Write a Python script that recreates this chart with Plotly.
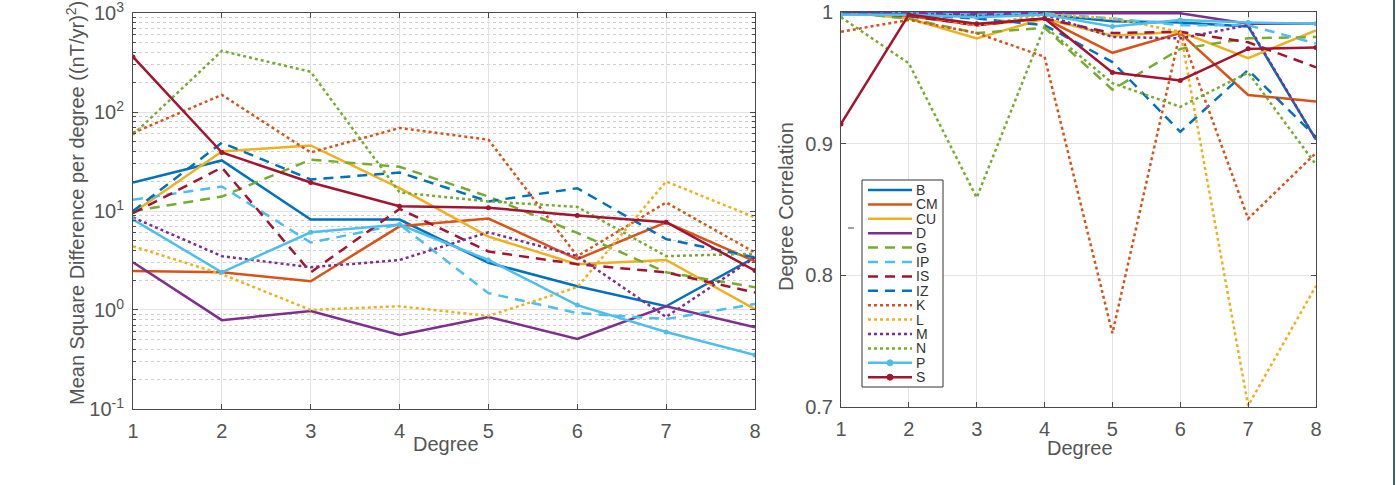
import plotly.graph_objects as go

W, H = 1396, 485

degrees = [1, 2, 3, 4, 5, 6, 7, 8]
series_names = ["B", "CM", "CU", "D", "G", "IP", "IS", "IZ", "K", "L", "M", "N", "P", "S"]

# Mean square difference per degree ((nT/yr)^2)
msd_B = [19.4, 32.4, 8.2, 8.2, 3.0, 1.74, 1.09, 3.4]
msd_CM = [2.47, 2.4, 1.95, 7.0, 8.4, 3.26, 7.7, 3.1]
msd_CU = [9.6, 40, 46, 17, 5.5, 2.9, 3.2, 1.02]
msd_D = [3.03, 0.79, 0.975, 0.56, 0.85, 0.51, 1.09, 0.67]
msd_G = [10, 14, 33, 28, 14, 6.0, 2.4, 1.7]
msd_IP = [13, 17.7, 4.8, 7.3, 1.48, 0.93, 0.81, 1.15]
msd_IS = [9.5, 27.5, 2.4, 10.5, 3.9, 2.9, 2.4, 1.5]
msd_IZ = [10, 49, 20.8, 24.5, 12.5, 17, 5.2, 3.4]
msd_K = [61.5, 149, 39, 69, 52.5, 3.5, 12.2, 3.8]
msd_L = [4.4, 2.3, 1.0, 1.09, 0.87, 1.7, 19.9, 8.6]
msd_M = [8.6, 3.5, 2.7, 3.2, 6.1, 3.5, 0.85, 3.4]
msd_N = [59, 414, 255, 15.4, 12.5, 11, 3.5, 3.7]
msd_P = [8.2, 2.4, 6.1, 7.3, 3.2, 1.12, 0.6, 0.35]
msd_S = [360, 39, 19.4, 11.2, 10.8, 9.0, 7.7, 2.5]

# Degree correlation
corr_B = [0.999, 0.999, 0.998, 0.998, 0.993, 0.992, 0.989, 0.903]
corr_CM = [0.999, 0.997, 0.99, 0.995, 0.969, 0.984, 0.937, 0.932]
corr_CU = [1.0, 0.995, 0.98, 0.995, 0.982, 0.985, 0.965, 0.986]
corr_D = [1.0, 1.0, 0.999, 0.999, 0.999, 0.999, 0.991, 0.991]
corr_G = [1.0, 0.995, 0.984, 0.988, 0.941, 0.972, 0.980, 0.981]
corr_IP = [1.0, 0.999, 0.998, 0.999, 0.995, 0.99, 0.99, 0.976]
corr_IS = [1.0, 0.997, 0.99, 0.995, 0.984, 0.985, 0.977, 0.958]
corr_IZ = [1.0, 0.998, 0.995, 0.99, 0.962, 0.909, 0.956, 0.905]
corr_K = [0.985, 0.994, 0.984, 0.966, 0.756, 0.985, 0.843, 0.893]
corr_L = [1.0, 0.999, 0.99, 0.998, 0.995, 0.985, 0.701, 0.792]
corr_M = [1.0, 0.999, 0.997, 0.998, 0.981, 0.98, 0.99, 0.903]
corr_N = [0.996, 0.961, 0.859, 0.989, 0.946, 0.928, 0.954, 0.884]
corr_P = [0.998, 0.998, 0.996, 0.998, 0.989, 0.994, 0.992, 0.991]
corr_S = [0.915, 0.998, 0.991, 0.995, 0.954, 0.948, 0.972, 0.973]

msd = [msd_B, msd_CM, msd_CU, msd_D, msd_G, msd_IP, msd_IS, msd_IZ,
       msd_K, msd_L, msd_M, msd_N, msd_P, msd_S]
corr = [corr_B, corr_CM, corr_CU, corr_D, corr_G, corr_IP, corr_IS, corr_IZ,
        corr_K, corr_L, corr_M, corr_N, corr_P, corr_S]

BLUE, ORANGE, YELLOW, PURPLE = "#0072BD", "#D95319", "#EDB120", "#7E2F8E"
GREEN, CYAN, RED = "#77AC30", "#4DBEEE", "#A2142F"
DASH = "10px,7px"
styles = [
    (BLUE, "solid", False), (ORANGE, "solid", False), (YELLOW, "solid", False),
    (PURPLE, "solid", False), (GREEN, DASH, False), (CYAN, DASH, False),
    (RED, DASH, False), (BLUE, DASH, False), (ORANGE, "dot", False),
    (YELLOW, "dot", False), (PURPLE, "dot", False), (GREEN, "dot", False),
    (CYAN, "solid", True), (RED, "solid", True),
]
LW = 2.5

fig = go.Figure()
for name, ys, (col, dash, mk) in zip(series_names, msd, styles):
    fig.add_trace(go.Scatter(
        x=degrees, y=ys, name=name, xaxis="x", yaxis="y", showlegend=False,
        mode="lines+markers" if mk else "lines",
        line=dict(color=col, width=LW, dash=dash),
        marker=dict(size=5, color=col)))
for name, ys, (col, dash, mk) in zip(series_names, corr, styles):
    fig.add_trace(go.Scatter(
        x=degrees, y=ys, name=name, xaxis="x2", yaxis="y2", showlegend=False,
        mode="lines+markers" if mk else "lines",
        line=dict(color=col, width=LW, dash=dash),
        marker=dict(size=5, color=col)))

AX = "#4a4a4a"
TXT = "#555555"
FONT = "Liberation Sans, Arial"
TICKF = dict(family=FONT, size=20, color=TXT)


def px_x(p):
    return p / W


def px_y(p):
    return 1 - p / H


common = dict(showline=True, mirror="ticks", linecolor=AX, linewidth=1,
              ticks="inside", ticklen=5, tickcolor=AX, tickfont=TICKF,
              showgrid=True, gridcolor="#e3e3e3", gridwidth=1, zeroline=False,
              automargin=False, ticklabeloverflow="allow")

annotations = [
    dict(text="Degree", x=px_x(446), y=px_y(444), xref="paper", yref="paper",
         xanchor="center", yanchor="middle", showarrow=False,
         font=dict(family=FONT, size=20, color=TXT)),
    dict(text="Degree", x=px_x(1080), y=px_y(448), xref="paper", yref="paper",
         xanchor="center", yanchor="middle", showarrow=False,
         font=dict(family=FONT, size=20, color=TXT)),
    dict(text="Mean Square Difference per degree ((nT/yr)<sup>2</sup>)",
         x=px_x(75), y=px_y(203), xref="paper", yref="paper", textangle=-90,
         xanchor="center", yanchor="middle", showarrow=False,
         font=dict(family=FONT, size=20, color=TXT)),
    dict(text="Degree Correlation", x=px_x(786), y=px_y(207), xref="paper",
         yref="paper", textangle=-90, xanchor="center", yanchor="middle",
         showarrow=False, font=dict(family=FONT, size=20, color=TXT)),
]

shapes = [
    dict(type="line", xref="paper", yref="paper", x0=px_x(1394), x1=px_x(1394),
         y0=0, y1=1, line=dict(color="#3d5f80", width=2)),
    dict(type="line", xref="paper", yref="paper", x0=px_x(848), x1=px_x(854),
         y0=px_y(228), y1=px_y(228), line=dict(color="#444444", width=1)),
    # legend box
    dict(type="rect", xref="paper", yref="paper", x0=px_x(862), x1=px_x(943),
         y0=px_y(387), y1=px_y(180), fillcolor="white",
         line=dict(color="#333333", width=1), layer="above"),
]

# legend entries, built from the series list
LEG_TOP, LEG_STEP = 190.0, 14.4
for i, (name, (col, dash, mk)) in enumerate(zip(series_names, styles)):
    cy = LEG_TOP + i * LEG_STEP
    yy = px_y(cy)
    shapes.append(dict(type="line", xref="paper", yref="paper",
                       x0=px_x(868), x1=px_x(912), y0=yy, y1=yy, layer="above",
                       line=dict(color=col, width=LW, dash=dash)))
    if mk:
        shapes.append(dict(type="circle", xref="paper", yref="paper",
                           x0=px_x(887), x1=px_x(893), y0=px_y(cy + 3), y1=px_y(cy - 3),
                           fillcolor=col, line=dict(color=col, width=1), layer="above"))
    annotations.append(dict(text=name, x=px_x(914), y=yy, xref="paper", yref="paper",
                            xanchor="left", yanchor="middle", showarrow=False,
                            font=dict(family=FONT, size=14, color="#333333")))

fig.update_layout(
    width=W, height=H, margin=dict(l=0, r=0, t=0, b=0),
    paper_bgcolor="white", plot_bgcolor="white", showlegend=False,
    font=dict(family=FONT, color=TXT),
    xaxis=dict(domain=[px_x(133), px_x(755)], range=[1, 8], tickvals=degrees,
               anchor="y", ticklabelstandoff=4, **common),
    yaxis=dict(domain=[px_y(409), px_y(13)], type="log", range=[-1.0003, 3.0003],
               tickvals=[0.1, 1, 10, 100, 1000],
               ticktext=["10<sup>-1</sup>", "10<sup>0</sup>", "10<sup>1</sup>",
                         "10<sup>2</sup>", "10<sup>3</sup>"],
               anchor="x", ticklabelstandoff=4,
               minor=dict(dtick="D1", showgrid=True, gridcolor="#cfcfcf",
                          griddash="dot", ticks="inside", ticklen=3, tickcolor=AX),
               **common),
    xaxis2=dict(domain=[px_x(841), px_x(1316)], range=[1, 8], tickvals=degrees,
                anchor="y2", ticklabelstandoff=4, **common),
    yaxis2=dict(domain=[px_y(407), px_y(12)], range=[0.7, 1.0],
                tickvals=[0.7, 0.8, 0.9, 1.0], ticktext=["0.7", "0.8", "0.9", "1"],
                anchor="x2", ticklabelstandoff=3, **common),
    annotations=annotations,
    shapes=shapes,
)

fig.write_html("out.html")
